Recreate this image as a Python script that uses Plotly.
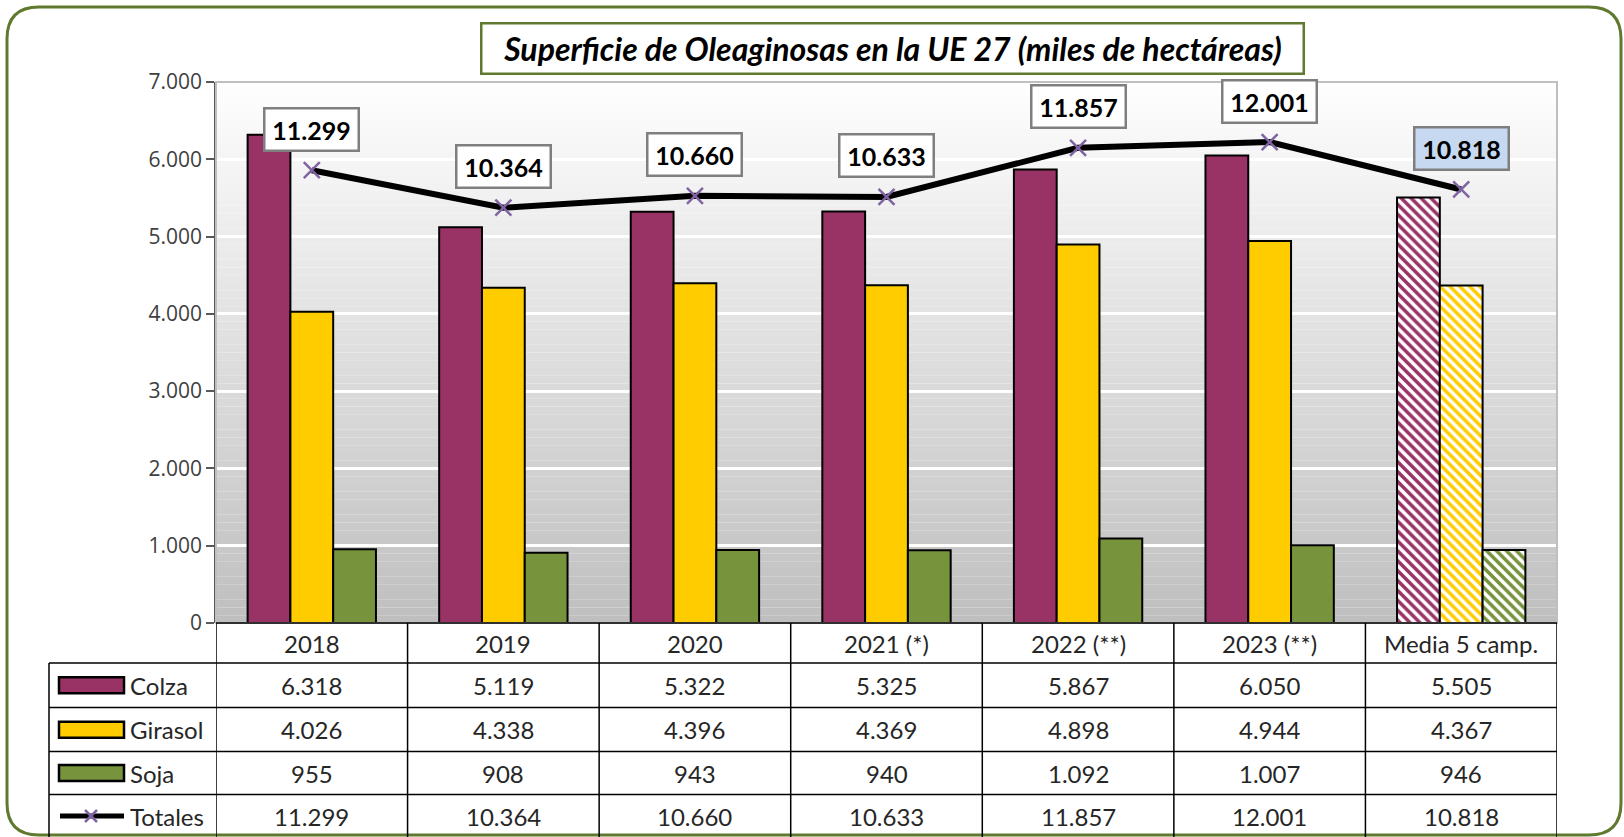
import plotly.graph_objects as go

# ---------------- data ----------------
categories = ["2018", "2019", "2020", "2021 (*)", "2022 (**)", "2023 (**)", "Media 5 camp."]
colza = [6318, 5119, 5322, 5325, 5867, 6050, 5505]
girasol = [4026, 4338, 4396, 4369, 4898, 4944, 4367]
soja = [955, 908, 943, 940, 1092, 1007, 946]
totales = [11299, 10364, 10660, 10633, 11857, 12001, 10818]
y_ticks = [0, 1000, 2000, 3000, 4000, 5000, 6000, 7000]
title_text = "Superficie de Oleaginosas en la UE 27 (miles de hectáreas)"

series = [("Colza", colza, "#993366"), ("Girasol", girasol, "#FFCC00"), ("Soja", soja, "#77933C")]


def fmt(v):
    return f"{v:,}".replace(",", ".")


# ---------------- geometry (pixels) ----------------
W, H = 1624, 837
PL, PR, PT, PB = 216, 1557, 82, 623
FONT = "Lato"


def X(px):
    return (px - PL) / (PR - PL)


def Y(py):
    return (PB - py) / (PB - PT)


fig = go.Figure()

n = len(categories)
idx = list(range(n))
hatch = [""] * (n - 1) + ["\\"]
for name, vals, col in series:
    fig.add_trace(go.Bar(
        x=categories, y=vals, name=name,
        marker=dict(color=col, line=dict(color="black", width=2),
                    pattern=dict(shape=hatch, fgcolor=col, bgcolor="white", size=7, solidity=0.5,
                                 fillmode="replace")),
        showlegend=False, hoverinfo="skip"))

fig.add_trace(go.Scatter(
    x=categories, y=totales, yaxis="y2", mode="lines+markers", name="Totales",
    line=dict(color="black", width=6),
    marker=dict(symbol="x-thin", size=16, line=dict(color="#8064A2", width=2.5)),
    showlegend=False, hoverinfo="skip"))

shapes = []
# gradient background of the plot area
steps = 70
for i in range(steps):
    y0 = 7000 * i / steps
    y1 = 7000 * (i + 1) / steps
    f = (i + 0.5) / steps
    g = int(round(191 + 63 * f ** 1.0))
    shapes.append(dict(type="rect", xref="paper", yref="y", x0=0, x1=1, y0=y0, y1=y1,
                       fillcolor=f"rgb({g},{g},{g})", line=dict(width=0), layer="below"))
# plot area border (top/right)
shapes.append(dict(type="rect", xref="paper", yref="paper", x0=0, x1=1, y0=0, y1=1,
                   line=dict(color="#BFBFBF", width=2), layer="above"))


# outer rounded frame
def rounded_path(x0, y0, x1, y1, r):
    pts = [
        ("M", [(x0 + r, y0)]), ("L", [(x1 - r, y0)]), ("Q", [(x1, y0), (x1, y0 + r)]),
        ("L", [(x1, y1 - r)]), ("Q", [(x1, y1), (x1 - r, y1)]), ("L", [(x0 + r, y1)]),
        ("Q", [(x0, y1), (x0, y1 - r)]), ("L", [(x0, y0 + r)]), ("Q", [(x0, y0), (x0 + r, y0)]),
    ]
    s = ""
    for cmd, ps in pts:
        s += cmd + " " + " ".join(f"{X(px):.5f},{Y(py):.5f}" for px, py in ps) + " "
    return s + "Z"


shapes.append(dict(type="path", xref="paper", yref="paper", path=rounded_path(7, 7, 1621, 835, 32),
                   line=dict(color="#5F7A2E", width=3), layer="below"))

# table lines
row_lines = [663, 707.5, 751.5, 794.5, 838]
TL = 49
for ry in row_lines:
    shapes.append(dict(type="line", xref="paper", yref="paper", x0=X(TL), x1=1, y0=Y(ry), y1=Y(ry),
                       line=dict(color="black", width=1.5), layer="above"))
shapes.append(dict(type="line", xref="paper", yref="paper", x0=0, x1=1, y0=0, y1=0,
                   line=dict(color="black", width=1.5), layer="above"))
for k in range(n + 1):
    shapes.append(dict(type="line", xref="x", yref="paper", x0=k - 0.5, x1=k - 0.5, y0=0, y1=Y(838),
                       line=dict(color="black", width=1.5), layer="above"))
shapes.append(dict(type="line", xref="paper", yref="paper", x0=X(TL), x1=X(TL), y0=Y(663), y1=Y(838),
                   line=dict(color="black", width=1.5), layer="above"))

row_centers = [685.2, 729.7, 773, 816]
# legend keys
for (name, vals, col), cy in zip(series, row_centers[:3]):
    shapes.append(dict(type="rect", xref="paper", yref="paper", x0=X(59), x1=X(124),
                       y0=Y(cy - 8), y1=Y(cy + 8), fillcolor=col,
                       line=dict(color="black", width=2.5), layer="above"))
cyT = row_centers[3]
shapes.append(dict(type="line", xref="paper", yref="paper", x0=X(60), x1=X(124), y0=Y(cyT), y1=Y(cyT),
                   line=dict(color="black", width=5), layer="above"))
for dx in (-1, 1):
    shapes.append(dict(type="line", xref="paper", yref="paper", x0=X(91 - 6), x1=X(91 + 6),
                       y0=Y(cyT - 6 * dx), y1=Y(cyT + 6 * dx),
                       line=dict(color="#8064A2", width=2.5), layer="above"))

annotations = []
# title
annotations.append(dict(xref="paper", yref="paper", x=X(892), y=Y(49), showarrow=False,
                        text=f"<b><i>{title_text}</i></b>", font=dict(family=FONT, size=32, color="black"),
                        bgcolor="white", bordercolor="#5F7A2E", borderwidth=2.5, borderpad=2,
                        width=816, height=44, xanchor="center", yanchor="middle"))
# total labels
for i, t in zip(idx, totales):
    annotations.append(dict(xref="x", yref="y2", x=i, y=t, yshift=41, showarrow=False,
                            text=f"<b>{fmt(t)}</b>", font=dict(family=FONT, size=25, color="black"),
                            bgcolor="#C6D9F1" if i == n - 1 else "white",
                            bordercolor="#7F7F7F", borderwidth=2.5, borderpad=2,
                            width=88, height=36, xanchor="center", yanchor="middle"))
# header row
for i, c in zip(idx, categories):
    annotations.append(dict(xref="x", yref="paper", x=i, y=Y(643), showarrow=False, text=c,
                            font=dict(family=FONT, size=24, color="#262626"),
                            xanchor="center", yanchor="middle"))
# row labels and cells
rows = [(name, vals) for name, vals, _ in series] + [("Totales", totales)]
for (name, vals), cy in zip(rows, row_centers):
    annotations.append(dict(xref="paper", yref="paper", x=X(128), y=Y(cy), showarrow=False, text=name,
                            font=dict(family=FONT, size=24, color="#262626"), xanchor="left", yanchor="middle"))
    for i, v in zip(idx, vals):
        annotations.append(dict(xref="x", yref="paper", x=i, y=Y(cy), showarrow=False, text=fmt(v),
                                font=dict(family=FONT, size=24, color="#262626"),
                                xanchor="center", yanchor="middle"))

fig.update_layout(
    width=W, height=H, autosize=False,
    margin=dict(l=PL, r=W - PR, t=PT, b=H - PB, pad=0),
    paper_bgcolor="white", plot_bgcolor="rgba(0,0,0,0)",
    barmode="group", bargap=0.33, bargroupgap=0,
    xaxis=dict(type="category", range=[-0.5, n - 0.5], showticklabels=False, showgrid=False,
               zeroline=False, showline=False, ticks=""),
    yaxis=dict(range=[0, 7000], tickvals=y_ticks, ticktext=[fmt(v) for v in y_ticks],
               showgrid=True, gridcolor="white", gridwidth=3, zeroline=False,
               showline=True, linecolor="#595959", linewidth=1.5,
               ticks="outside", ticklen=8, tickcolor="#595959", tickwidth=1.5,
               tickfont=dict(family="Open Sans", size=21, color="#404040")),
    yaxis2=dict(range=[0, 13500], overlaying="y", visible=False),
    shapes=shapes, annotations=annotations, showlegend=False,
)

fig.write_html("out.html", config={"displayModeBar": False},
               post_script="document.body.style.margin='0px';document.body.style.overflow='hidden';")
